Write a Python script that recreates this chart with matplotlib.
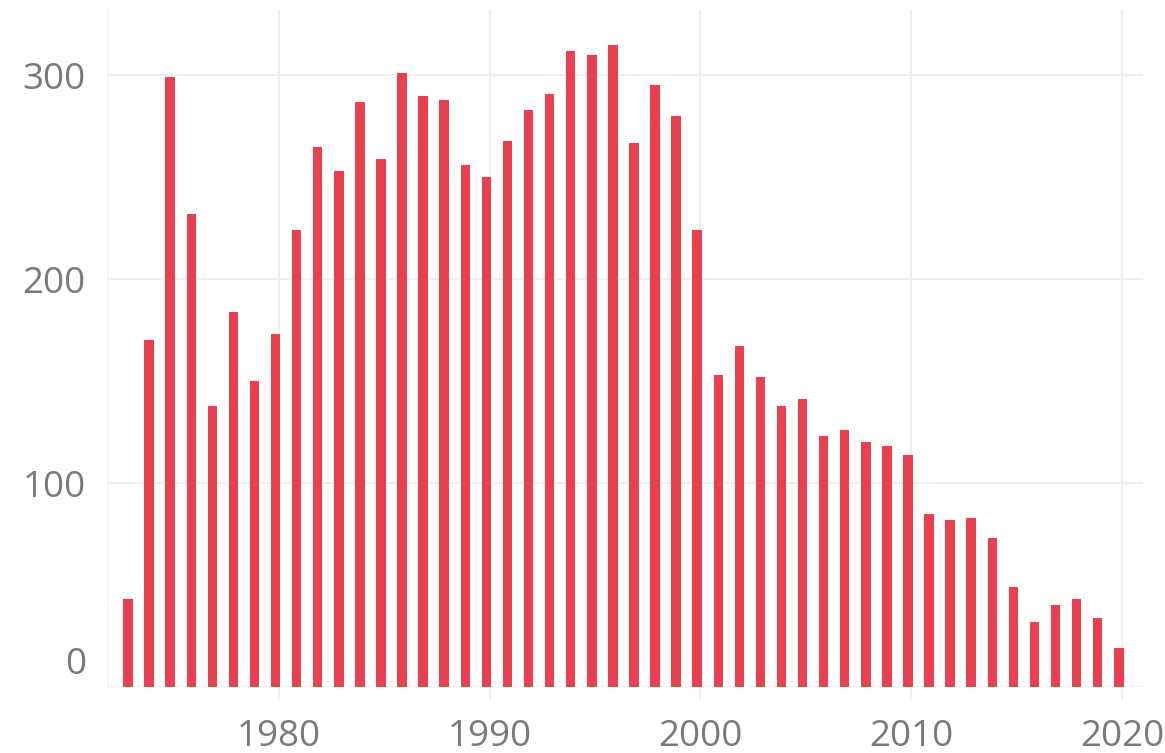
import numpy as np
import matplotlib.pyplot as plt
from matplotlib.transforms import ScaledTranslation

plt.rcParams['font.family'] = ['Open Sans', 'DejaVu Sans']

# данные: число событий по годам
years = list(range(1973, 2021))
counts = [43, 170, 299, 232, 138, 184, 150, 173, 224, 265,
          253, 287, 259, 301, 290, 288, 256, 250, 268, 283,
          291, 312, 310, 315, 267, 295, 280, 224, 153, 167,
          152, 138, 141, 123, 126, 120, 118, 114, 85, 82,
          83, 73, 49, 32, 40, 43, 34, 19]
y_ticks = [0, 100, 200, 300]
x_ticks = [1980, 1990, 2000, 2010, 2020]

bar_color = '#E8404F'
grid_color = '#EFEFEF'
text_color = '#7A7A7A'

fig = plt.figure(figsize=(11.65, 7.53), dpi=100)
ax = fig.add_axes([108 / 1165, 1 - 687 / 753, (1143 - 108) / 1165, (687 - 10) / 753])

x = np.array(years) - 0.15
ax.bar(x, counts, width=0.45, color=bar_color, zorder=3)

ax.set_xlim(1971.9, 2021.0)
ax.set_ylim(0, 332)

ax.set_xticks(x_ticks)
ax.set_xticklabels([str(t) for t in x_ticks])
ax.set_yticks(y_ticks)
ax.set_yticklabels([str(t) for t in y_ticks])

ax.grid(True, color=grid_color, linewidth=1.6, zorder=0)
ax.set_axisbelow(True)

for side in ['top', 'right', 'bottom']:
    ax.spines[side].set_visible(False)
ax.spines['left'].set_color('#F4F4F4')
ax.spines['left'].set_linewidth(1.2)

ax.tick_params(axis='x', length=9, width=1.6, color=grid_color, pad=14,
               labelsize=26.5, labelcolor=text_color)
ax.tick_params(axis='y', length=0, pad=16, labelsize=26.5, labelcolor=text_color)

# подпись "0" поднята над базовой линией
lbl0 = ax.get_yticklabels()[0]
lbl0.set_transform(lbl0.get_transform() + ScaledTranslation(0, 27 / 100, fig.dpi_scale_trans))

fig.savefig('out.png', dpi=100, facecolor='white')
